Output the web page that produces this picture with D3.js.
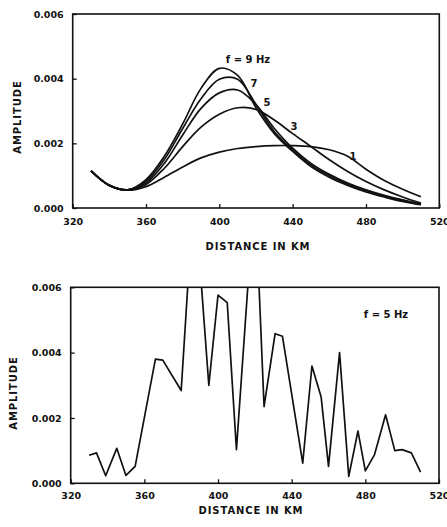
<!DOCTYPE html>
<html><head><meta charset="utf-8">
<script src="https://cdn.jsdelivr.net/npm/d3@7"></script>
<style>
body{margin:0;background:#fff;}
text{font-family:"DejaVu Sans",sans-serif;font-weight:bold;fill:#111;}
</style></head>
<body><svg id="c" width="447" height="527"></svg>
<script>
// ---- data ----
const distTop = [330,340,350,360,370,380,390,400,410,420,430,440,450,460,470,480,490,500,510];
const f9 = [.00115,.0007,.00056,.00088,.0016,.0026,.0037,.00432,.0041,.0031,.0023,.00175,.00128,.00095,.0007,.0005,.00034,.0002,.0001];
const f7 = [.00115,.0007,.00056,.00083,.0015,.00246,.00338,.00398,.00398,.0032,.00236,.0018,.00133,.001,.00074,.00054,.00037,.00023,.00011];
const f5 = [.00115,.0007,.00056,.00078,.00138,.00226,.00308,.00356,.00365,.0032,.00246,.00185,.00138,.00104,.00077,.00056,.00039,.00025,.00012];
const f3 = [.00115,.0007,.00056,.00073,.00123,.0019,.0025,.0029,.0031,.00305,.00272,.0023,.0019,.00149,.00113,.00082,.00056,.00034,.00015];
const f1 = [.00115,.0007,.00055,.00066,.00095,.00127,.00155,.00173,.00184,.0019,.00193,.00193,.0019,.0018,.0016,.0012,.00085,.00058,.00035];
const seriesTop = [f9,f7,f5,f3,f1];
const curveLabels = ["f = 9 Hz","7","5","3","1"];

const distBot = [330,334,339,345,350,355,366,370,380,387,395,400,405,410,420,425,431,435,446,451,456,460,466,471,476,480,485,491,496,500,505,510];
const ampBot = [.00086,.00093,.00023,.00107,.00024,.00052,.0038,.00377,.00284,.0091,.003,.00576,.00553,.00103,.0091,.00235,.00458,.0045,.00062,.00359,.00264,.00052,.004,.00021,.0016,.00038,.00088,.0021,.001,.00103,.00093,.00034];
const botLabel = "f = 5 Hz";

const xTicks = [320,360,400,440,480,520];
const yTicks = [0,0.002,0.004,0.006];
const xTitle = "DISTANCE IN KM";
const yTitle = "AMPLITUDE";

// ---- drawing ----
const svg = d3.select("#c");
const fmt = d3.format(".3f");

function panel(box, drawFn){
  const x = d3.scaleLinear().domain([320,520]).range([box.l, box.r]);
  const y = d3.scaleLinear().domain([0,0.006]).range([box.b, box.t]);
  const g = svg.append("g");
  const id = "clip"+Math.round(box.t);
  svg.append("clipPath").attr("id",id).append("rect")
     .attr("x",box.l).attr("y",box.t).attr("width",box.r-box.l).attr("height",box.b-box.t);
  drawFn(g, x, y, id);
  // frame
  g.append("rect").attr("x",box.l).attr("y",box.t).attr("width",box.r-box.l).attr("height",box.b-box.t)
    .attr("fill","none").attr("stroke","#111").attr("stroke-width",1.6);
  const xa = g.append("g").attr("transform",`translate(0,${box.b})`)
    .call(d3.axisBottom(x).tickValues(xTicks).tickFormat(d3.format("d")).tickSizeInner(-4).tickSizeOuter(0).tickPadding(box.xpad));
  const ya = g.append("g").attr("transform",`translate(${box.l},0)`)
    .call(d3.axisLeft(y).tickValues(yTicks).tickFormat(fmt).tickSizeInner(-4).tickSizeOuter(0).tickPadding(box.ypad));
  [xa,ya].forEach(a=>{
    a.select(".domain").remove();
    a.selectAll("line").attr("stroke","#111").attr("stroke-width",1.3);
    a.selectAll("text").attr("font-size",9.5).attr("font-family","DejaVu Sans").attr("font-weight","bold").attr("fill","#111");
  });
  g.append("text").attr("x",box.xtx).attr("y",box.xty).attr("text-anchor","middle")
    .attr("font-size",10).attr("letter-spacing",0.9).text(xTitle);
  g.append("text").attr("transform",`translate(${box.ytx},${box.yty}) rotate(-90)`).attr("text-anchor","middle")
    .attr("font-size",10).attr("letter-spacing",0.9).text(yTitle);
}

const lineGen = (x,y,xs)=>d3.line().x((d,i)=>x(xs[i])).y(d=>y(d));

panel({l:72.7,r:439.3,t:14,b:208,xpad:10,ypad:9,xtx:258,xty:250,ytx:21,yty:117}, (g,x,y)=>{
  seriesTop.forEach(s=>{
    g.append("path").datum(s)
      .attr("d", lineGen(x,y,distTop).curve(d3.curveCatmullRom.alpha(0.5)))
      .attr("fill","none").attr("stroke","#111").attr("stroke-width",1.7);
  });
  const lp = [[248,63,"middle"],[254,87,"middle"],[267,106,"middle"],[294,130,"middle"],[353,160,"middle"]];
  curveLabels.forEach((t,i)=>{
    g.append("text").attr("x",lp[i][0]).attr("y",lp[i][1]).attr("text-anchor",lp[i][2]).attr("font-size",10).text(t);
  });
});

panel({l:70.7,r:439,t:287.3,b:483.3,xpad:9,ypad:9,xtx:251,xty:514,ytx:17,yty:393}, (g,x,y,id)=>{
  g.append("path").datum(ampBot).attr("clip-path",`url(#${id})`)
    .attr("d", lineGen(x,y,distBot))
    .attr("fill","none").attr("stroke","#111").attr("stroke-width",1.7).attr("stroke-linejoin","round");
  g.append("text").attr("x",386).attr("y",318).attr("text-anchor","middle").attr("font-size",10).text(botLabel);
});
</script></body></html>
